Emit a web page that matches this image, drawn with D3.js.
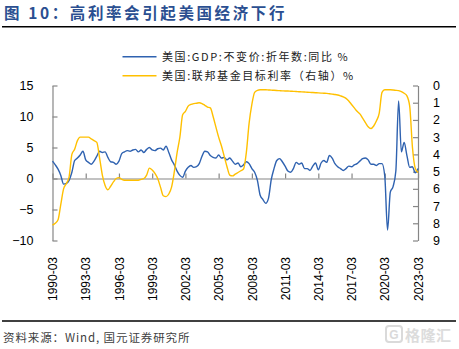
<!DOCTYPE html>
<html><head><meta charset="utf-8">
<script src="https://cdn.jsdelivr.net/npm/d3@7"></script>
<style>
html,body{margin:0;padding:0;background:#fff;}
svg{display:block;}
</style></head>
<body><svg id="chart" width="459" height="349"></svg>
<script>
// ---- data ----
const title = "图 10：高利率会引起美国经济下行";
const source = "资料来源：Wind, 国元证券研究所";
const seriesNames = ["美国:GDP:不变价:折年数:同比 %", "美国:联邦基金目标利率（右轴）%"];
const startYear = 1990;
const quarterMonths = ["03", "06", "09", "12"];
const tickLabels = ["1990-03","1993-03","1996-03","1999-03","2002-03","2005-03","2008-03","2011-03","2014-03","2017-03","2020-03","2023-03"];
const leftTicks = [-10, -5, 0, 5, 10, 15];
const rightTicks = [0, 1, 2, 3, 4, 5, 6, 7, 8, 9];

// US real GDP yoy %, quarterly 1990Q1 - 2023Q1
const gdp = [
  2.8, 2.2, 1.5, 0.5,
  -0.9, -0.8, -0.3, 1.0,
  2.9, 3.3, 3.8, 4.4,
  3.0, 2.6, 2.3, 2.8,
  3.6, 4.4, 4.2, 4.3,
  3.4, 2.7, 2.6, 2.3,
  2.8, 4.0, 4.3, 4.5,
  4.4, 4.6, 4.7, 4.3,
  4.6, 4.2, 4.7, 5.0,
  4.6, 4.5, 4.8, 4.9,
  4.6, 5.2, 4.2, 3.0,
  2.2, 1.2, 0.5, 0.2,
  1.2, 1.8, 2.1, 1.8,
  1.9, 2.4, 3.6, 4.4,
  4.3, 3.7, 3.4, 3.3,
  3.8, 3.3, 3.4, 3.0,
  3.3, 2.8, 2.3, 2.5,
  1.9, 2.2, 2.7, 2.4,
  1.6, 1.0, -0.3, -2.7,
  -3.4, -4.0, -3.2, -0.2,
  1.6, 2.9, 3.2, 2.7,
  2.0, 1.2, 1.0, 1.6,
  2.6, 2.3, 2.5, 1.6,
  1.6, 1.3, 2.0, 2.5,
  1.4, 2.5, 2.9, 2.6,
  3.7, 3.3, 2.4, 1.9,
  1.6, 1.3, 1.6, 2.0,
  1.9, 2.2, 2.4, 2.8,
  3.2, 3.3, 3.0, 2.3,
  2.3, 2.1, 2.4, 2.4,
  0.4, -8.3, -2.2, -1.3,
  1.2, 12.5, 4.3, 5.8,
  3.7, 1.8, 1.9, 0.9,
  1.6
];

// Fed funds target rate %, quarterly 1990Q1 - 2023Q1 (right axis, inverted)
const fed = [
  8.1, 8.0, 7.8, 6.9,
  6.0, 5.7, 5.3, 4.0,
  3.7, 3.2, 3.0, 3.0,
  3.0, 3.0, 3.1, 3.2,
  3.3, 4.2, 5.2, 5.8,
  6.05, 5.85, 5.6, 5.4,
  5.35, 5.45, 5.5, 5.5,
  5.5, 5.5, 5.5, 5.5,
  5.45, 5.4, 5.2, 4.8,
  4.9, 5.1, 5.4, 5.9,
  6.4, 6.45, 6.3, 5.9,
  5.0, 3.9, 3.0, 1.7,
  1.5, 1.2, 1.1, 1.05,
  1.03, 1.0, 1.05, 1.15,
  1.25, 1.3, 1.8, 2.4,
  3.0, 3.5, 4.1, 4.7,
  5.2, 5.25, 5.15, 5.05,
  4.95, 4.85, 3.9, 2.2,
  1.1, 0.4, 0.28, 0.25,
  0.25, 0.25, 0.26, 0.27,
  0.28, 0.29, 0.3, 0.31,
  0.32, 0.32, 0.33, 0.34,
  0.35, 0.36, 0.37, 0.38,
  0.39, 0.4, 0.41, 0.42,
  0.43, 0.44, 0.45, 0.46,
  0.48, 0.5, 0.52, 0.55,
  0.6, 0.66, 0.75, 0.9,
  1.1, 1.3, 1.5, 1.65,
  1.9, 2.15, 2.4, 2.5,
  2.35, 2.05, 1.6, 0.4,
  0.25, 0.25, 0.25, 0.26,
  0.28, 0.3, 0.35, 0.45,
  0.6, 1.2, 3.6, 4.8,
  5.05
];

const quarters = gdp.map((_, i) => `${startYear + Math.floor(i / 4)}-${quarterMonths[i % 4]}`);

// ---- layout ----
const svg = d3.select("#chart");
const W = 459, H = 349;
const plot = {left: 52.5, right: 418, top: 85.5, bottom: 240.5};
const axisColor = "#868686";
const numFont = "'Liberation Sans', Arial, sans-serif";
const cjkFont = "'Noto Sans CJK SC', 'Noto Sans', sans-serif";

const x = d3.scalePoint().domain(quarters).range([plot.left, plot.right]);
const yL = d3.scaleLinear().domain([-10, 15]).range([plot.bottom, plot.top]);
const yR = d3.scaleLinear().domain([0, 9]).range([plot.top, plot.bottom]);

// title
svg.append("text").attr("x", 4).attr("y", 19)
  .attr("font-family", cjkFont).attr("font-size", 15.5).attr("font-weight", "bold")
  .attr("letter-spacing", 2.6).attr("fill", "#2b4f91").text(title);
svg.append("line").attr("x1", 2).attr("x2", 456).attr("y1", 26.7).attr("y2", 26.7)
  .attr("stroke", "#000").attr("stroke-width", 1.4);

// footer
svg.append("line").attr("x1", 2).attr("x2", 456).attr("y1", 321).attr("y2", 321)
  .attr("stroke", "#000").attr("stroke-width", 1.4);
svg.append("text").attr("x", 3).attr("y", 341.5)
  .attr("font-family", cjkFont).attr("font-size", 11.5).attr("letter-spacing", 0.9)
  .attr("fill", "#404040").text(source);

// watermark
const wm = svg.append("g").attr("opacity", 0.9);
wm.append("rect").attr("x", 386).attr("y", 326).attr("width", 16).attr("height", 16).attr("rx", 3)
  .attr("fill", "none").attr("stroke", "#d6d6d6").attr("stroke-width", 2);
wm.append("text").attr("x", 394).attr("y", 339).attr("text-anchor", "middle")
  .attr("font-family", numFont).attr("font-weight", "bold").attr("font-size", 12).attr("fill", "#d6d6d6").text("G");
wm.append("text").attr("x", 405).attr("y", 340.5)
  .attr("font-family", cjkFont).attr("font-weight", "bold").attr("font-size", 15).attr("letter-spacing", 0.5)
  .attr("fill", "#d9d9d9").text("格隆汇");

// axes
const y0 = yL(0);
const gx = svg.append("g").attr("transform", `translate(0,${y0})`)
  .call(d3.axisBottom(x).tickValues(tickLabels).tickSizeInner(-5).tickSizeOuter(0));
gx.selectAll("text")
  .attr("transform", `translate(0,${257 - y0}) rotate(-90)`)
  .attr("x", 0).attr("y", 0).attr("dy", "0.35em").attr("text-anchor", "end");

const gl = svg.append("g").attr("transform", `translate(${plot.left},0)`)
  .call(d3.axisLeft(yL).tickValues(leftTicks).tickSizeInner(-5).tickSizeOuter(0).tickPadding(19));
const gr = svg.append("g").attr("transform", `translate(${plot.right},0)`)
  .call(d3.axisRight(yR).tickValues(rightTicks).tickSizeInner(-5).tickSizeOuter(0).tickPadding(15));

[gx, gl, gr].forEach(g => {
  g.select(".domain").attr("stroke", axisColor).attr("stroke-width", 1.2);
  g.selectAll(".tick line").attr("stroke", axisColor).attr("stroke-width", 1.2);
  g.selectAll("text").attr("font-family", numFont).attr("font-size", 12.5).attr("fill", "#000");
});
gx.selectAll("text").attr("font-size", 12);

// lines
const blue = "#2f62b0", gold = "#ffc000";
const lineL = d3.line().x((d, i) => x(quarters[i])).y(d => yL(d)).curve(d3.curveMonotoneX);
const lineR = d3.line().x((d, i) => x(quarters[i])).y(d => yR(d)).curve(d3.curveMonotoneX);
svg.append("path").datum(gdp).attr("d", lineL).attr("fill", "none")
  .attr("stroke", blue).attr("stroke-width", 1.4);
svg.append("path").datum(fed).attr("d", lineR).attr("fill", "none")
  .attr("stroke", gold).attr("stroke-width", 1.4);

// legend
const legend = svg.append("g");
[[blue, 56.7], [gold, 75.7]].forEach(([c, ly], i) => {
  legend.append("line").attr("x1", 122.5).attr("x2", 156.5).attr("y1", ly).attr("y2", ly)
    .attr("stroke", c).attr("stroke-width", 1.4);
  legend.append("text").attr("x", 162).attr("y", ly).attr("dy", "0.36em")
    .attr("font-family", cjkFont).attr("font-size", 11).attr("letter-spacing", 1.6)
    .attr("fill", "#222").text(seriesNames[i]);
});
</script></body></html>
